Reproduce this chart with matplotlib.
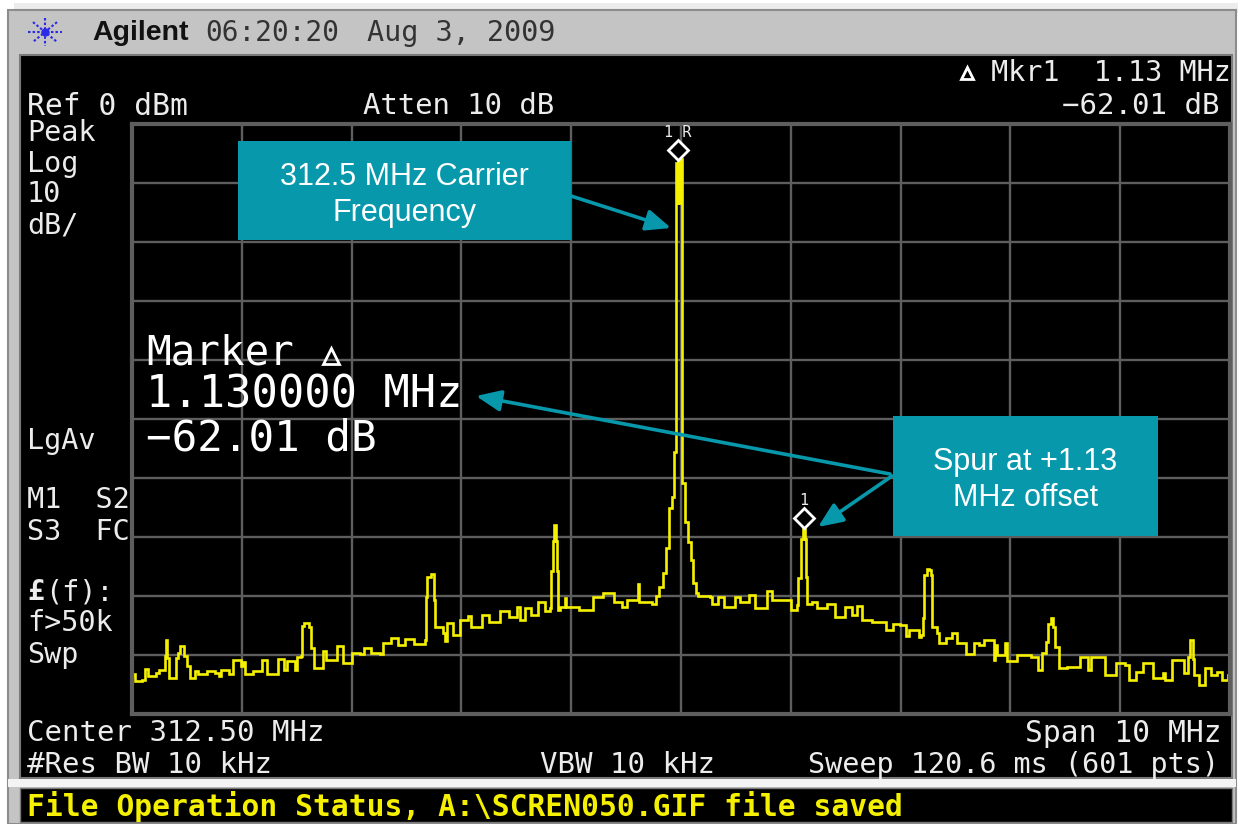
import numpy as np
import matplotlib
matplotlib.use("Agg")
import matplotlib.pyplot as plt
from matplotlib.patches import Rectangle

# offset from 312.5 MHz center, in MHz
freq_offset = [-5.00,-4.99,-4.97,-4.91,-4.88,-4.85,-4.78,-4.75,-4.71,-4.70,-4.69,-4.68,-4.66,-4.66,-4.62,-4.60,-4.58,-4.56,-4.53,-4.50,
    -4.47,-4.43,-4.40,-4.32,-4.24,-4.21,-4.19,-4.12,-4.08,-4.01,-3.99,-3.97,-3.90,-3.82,-3.77,-3.67,-3.62,-3.59,-3.52,-3.50,
    -3.46,-3.45,-3.43,-3.39,-3.37,-3.34,-3.26,-3.23,-3.13,-3.08,-3.00,-2.92,-2.89,-2.82,-2.74,-2.71,-2.64,-2.58,-2.51,-2.43,
    -2.33,-2.32,-2.31,-2.28,-2.25,-2.24,-2.17,-2.15,-2.13,-2.08,-2.01,-1.94,-1.91,-1.81,-1.75,-1.65,-1.57,-1.49,-1.47,-1.42,
    -1.37,-1.30,-1.24,-1.19,-1.18,-1.17,-1.155,-1.14,-1.13,-1.12,-1.10,-1.06,-1.05,-0.93,-0.80,-0.71,-0.61,-0.54,-0.49,-0.39,
    -0.38,-0.26,-0.228,-0.20,-0.165,-0.14,-0.11,-0.082,-0.066,-0.048,-0.045,-0.036,-0.027,-0.018,-0.01,0.005,0.034,0.064,0.088,0.11,0.134,0.155,0.26,
    0.28,0.34,0.39,0.49,0.54,0.62,0.67,0.78,0.83,0.91,1.0,1.06,1.07,1.09,1.11,1.13,1.14,1.15,1.19,1.24,
    1.33,1.40,1.49,1.56,1.60,1.65,1.74,1.84,1.87,1.93,1.99,2.05,2.08,2.17,2.19,2.20,2.21,2.24,2.26,2.28,
    2.29,2.33,2.35,2.41,2.47,2.51,2.56,2.60,2.67,2.71,2.76,2.85,2.86,2.88,2.95,2.97,3.06,3.11,3.19,3.25,
    3.29,3.32,3.34,3.37,3.39,3.41,3.44,3.52,3.63,3.71,3.73,3.86,3.96,4.04,4.08,4.14,4.21,4.30,4.39,4.41,
    4.47,4.55,4.58,4.62,4.64,4.66,4.67,4.72,4.77,4.83,4.88,4.93,4.98,5.00]
level_db = [-93.6,-93.2,-94.4,-94.2,-92.3,-93.5,-93.0,-92.6,-92.6,-90.2,-87.4,-90.5,-90.8,-93.9,-93.9,-90.5,-89.7,-88.5,-90.2,-91.9,
    -93.9,-92.7,-93.3,-92.7,-93.0,-93.6,-92.5,-93.3,-90.9,-91.9,-91.2,-93.3,-92.7,-90.9,-93.3,-90.7,-92.5,-91.1,-92.5,-90.3,
    -90.2,-85.1,-84.5,-85.3,-88.8,-92.2,-89.4,-90.9,-88.4,-91.3,-89.7,-89.9,-88.8,-89.6,-89.9,-88.0,-87.2,-88.3,-87.3,-88.1,
    -87.5,-80.2,-76.8,-76.3,-80.6,-85.3,-86.3,-87.7,-84.6,-86.6,-84.1,-83.4,-85.3,-83.2,-84.4,-82.5,-83.6,-81.8,-84.0,-82.1,
    -83.2,-81.0,-82.5,-82.1,-75.7,-70.7,-68.0,-70.7,-75.7,-82.4,-81.8,-80.3,-81.8,-82.3,-80.2,-79.5,-81.0,-81.8,-80.7,-77.9,
    -81.0,-81.3,-80.0,-78.5,-76.1,-71.9,-65.1,-63.2,-55.6,-13.4,-6.6,-13.4,-5.8,-13.4,-6.0,-60.8,-67.5,-70.8,-73.9,-77.8,-79.5,-80.0,-80.2,
    -81.3,-80.2,-81.9,-80.2,-81.0,-79.9,-82.0,-79.2,-80.7,-80.6,-82.3,-81.6,-76.9,-70.3,-67.6,-70.3,-76.8,-81.3,-81.0,-82.1,
    -81.3,-83.5,-81.9,-83.3,-81.7,-84.1,-84.4,-84.4,-85.8,-84.7,-84.9,-86.8,-85.8,-86.9,-86.6,-83.8,-76.5,-75.4,-75.6,-76.5,
    -85.2,-86.3,-87.9,-87.2,-86.3,-88.0,-88.0,-89.8,-88.0,-88.3,-87.5,-90.8,-88.3,-90.0,-88.0,-91.1,-90.0,-90.0,-90.3,-92.5,
    -89.7,-87.8,-84.7,-83.7,-85.2,-88.6,-92.2,-92.0,-90.3,-92.5,-90.3,-93.4,-91.3,-91.7,-94.2,-92.8,-91.4,-93.9,-93.1,-94.2,
    -90.8,-90.8,-93.1,-90.3,-87.5,-90.6,-93.4,-95.0,-92.2,-93.4,-92.8,-94.2,-93.4,-93.4]

marker_freq = [-0.03, 1.12]
marker_db = [-4.4, -66.7]
marker_names = ["1 R", "1"]

left_labels = ["Peak", "Log", "10", "dB/", "LgAv", "M1  S2", "S3  FC", "(f):", "f>50k", "Swp"]
left_label_x = [27, 27, 27, 27, 27, 27, 27, 45, 27, 27]
left_label_y = [131, 162, 192, 223, 439, 498, 530, 590, 621, 653]

W, H = 1248, 824
MONO = "DejaVu Sans Mono"
SANS = "Liberation Sans"
TEAL = "#0798ac"
SCREEN_TXT = "#ececec"
YELLOW = "#f5f000"

fig = plt.figure(figsize=(W/100, H/100), dpi=100, facecolor="white")

# instrument frame, in image pixels
bg = fig.add_axes([0, 0, 1, 1], zorder=0)
bg.set_xlim(0, W)
bg.set_ylim(H, 0)
bg.axis("off")
bg.add_patch(Rectangle((14, 3), 1224, 10, fc="#ececec", ec="none"))
bg.add_patch(Rectangle((8, 10), 1228, 814, fc="#c4c4c4", ec="#8c8c8c", lw=1.5))
bg.add_patch(Rectangle((20, 55), 1212, 723, fc="black", ec="#7a7a7a", lw=1.5))
bg.add_patch(Rectangle((8, 779), 1228, 8, fc="#f4f4f4", ec="none"))
bg.add_patch(Rectangle((20, 788), 1212, 34, fc="black", ec="#7a7a7a", lw=1))

# logo
for a in np.arange(0, 180, 45):
    dx, dy = 17*np.cos(np.radians(a)), 14*np.sin(np.radians(a))
    bg.plot([45 - dx, 45 + dx], [32 - dy, 32 + dy], color="#2a2ae8", lw=1.5, ls=(0, (1.2, 1)))
bg.plot([45], [32], "o", color="#2a2ae8", ms=5)

# spectrum trace
ax = fig.add_axes([132/W, 1 - 714/H, (1230-132)/W, (714-124)/H], zorder=1)
ax.set_facecolor("none")
ax.set_xlim(-5, 5)
ax.set_ylim(-100, 0)
ax.set_xticks(np.arange(-5, 6))
ax.set_yticks(np.arange(-100, 1, 10))
ax.grid(True, color="#5e5e5e", lw=1.7)
ax.set_axisbelow(True)
ax.tick_params(length=0, labelbottom=False, labelleft=False)
for s in ax.spines.values():
    s.set_color("#5e5e5e")
    s.set_linewidth(3)
ax.plot(freq_offset, level_db, color=YELLOW, lw=1.9, drawstyle="steps-post", solid_joinstyle="miter", clip_on=False)
ax.plot(marker_freq, marker_db, "D", ms=10, mfc="black", mec="white", mew=2, clip_on=False)
for f, d, n in zip(marker_freq, marker_db, marker_names):
    ax.annotate(n, (f, d), xytext=(0, 10), textcoords="offset pixels", ha="center", va="bottom",
                color=SCREEN_TXT, family=MONO, fontsize=11)

# everything written on top, in image pixels
top = fig.add_axes([0, 0, 1, 1], zorder=2)
top.set_xlim(0, W)
top.set_ylim(H, 0)
top.axis("off")


def screen_text(x, y, s, size=20.5, ha="left", color=SCREEN_TXT, weight="normal", family=MONO):
    top.text(x, y + 2, s, fontsize=size, ha=ha, va="center", color=color, weight=weight, family=family)


screen_text(92, 31, "Agilent", size=20.5, color="#111111", weight="bold", family=SANS)
screen_text(205, 31, "06:20:20", size=20, color="#333333")
screen_text(367, 31, "Aug 3, 2009", size=20.5, color="#333333")

screen_text(1231, 71, "Mkr1  1.13 MHz", ha="right")
top.plot([967], [73], "^", ms=8, mfc="none", mec="white", mew=2)
screen_text(27, 104, "Ref 0 dBm", size=21.3)
screen_text(363, 104, "Atten 10 dB", size=20.8)
screen_text(1219, 104, "−62.01 dB", ha="right", size=21)

for lab, x, y in zip(left_labels, left_label_x, left_label_y):
    screen_text(x, y, lab)
screen_text(27, 590, "£", weight="bold")

screen_text(27, 731, "Center 312.50 MHz", size=20.9)
screen_text(1222, 731, "Span 10 MHz", ha="right", size=21.3)
screen_text(27, 763, "#Res BW 10 kHz", size=21)
screen_text(540, 763, "VBW 10 kHz", size=21)
screen_text(1219, 763, "Sweep 120.6 ms (601 pts)", ha="right")
screen_text(27, 805, "File Operation Status, A:\\SCREN050.GIF file saved", size=21.3, color=YELLOW, weight="bold")

# big marker readout
screen_text(146, 351, "Marker", size=29.5, color="white")
top.plot([331], [356], "^", ms=12, mfc="none", mec="white", mew=2)
screen_text(146, 393, "1.130000 MHz", size=31.5, color="white")
screen_text(146, 436, "−62.01 dB", size=30.6, color="white")

# callouts
top.add_patch(Rectangle((238, 141), 333, 99, fc=TEAL, ec="none"))
top.add_patch(Rectangle((893, 416), 265, 120, fc=TEAL, ec="none"))
screen_text(404.5, 175, "312.5 MHz Carrier", size=22, ha="center", color="white", family=SANS)
screen_text(404.5, 211, "Frequency", size=22, ha="center", color="white", family=SANS)
screen_text(1025.5, 460, "Spur at +1.13", size=22, ha="center", color="white", family=SANS)
screen_text(1025.5, 496, "MHz offset", size=22, ha="center", color="white", family=SANS)

arrow = dict(arrowstyle="-|>,head_length=0.75,head_width=0.32", mutation_scale=20, color=TEAL, lw=2.6, shrinkA=0, shrinkB=0)
top.annotate("", xy=(671, 228), xytext=(571, 196), arrowprops=arrow)
top.annotate("", xy=(476, 396), xytext=(890, 474), arrowprops=arrow)
top.annotate("", xy=(818, 527), xytext=(892, 476), arrowprops=arrow)

fig.savefig("out.png", dpi=100)
